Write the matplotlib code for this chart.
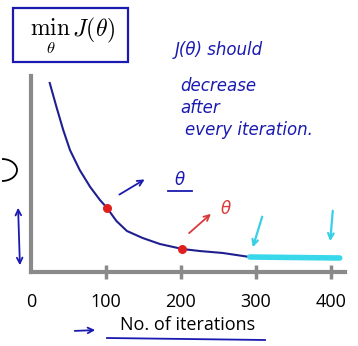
import matplotlib.pyplot as plt
from matplotlib.patches import FancyArrowPatch, Rectangle, Arc

# cost curve
iters = [25, 34, 43, 52, 65, 79, 92, 101, 114, 128, 149, 172, 202, 225, 256, 292, 350, 412]
cost = [189, 165, 142, 122, 102, 85, 72, 64.5, 51, 41, 34, 28, 23, 21, 19, 15, 14.5, 14]
mark_iters = [101, 202]
mark_cost = [64.5, 23]
flat_iters = [292, 412]
flat_cost = [15, 14]
xticks = [0, 100, 200, 300, 400]

W, H = 358, 346
fig = plt.figure(figsize=(W / 100, H / 100), dpi=100)
fig.patch.set_facecolor('white')
plt.rcParams['mathtext.fontset'] = 'cm'

def px(x, y):
    return (x / W, 1 - y / H)

ax = fig.add_axes([31 / W, 74 / H, 314 / W, 196 / H])
ax.plot(iters, cost, color='#1f1f8f', lw=1.5, zorder=3)
ax.plot(flat_iters, flat_cost, color='#38d8ea', lw=4, solid_capstyle='round', zorder=4)
ax.scatter(mark_iters, mark_cost, color='#e0201e', s=30, zorder=5)

ax.set_xlim(0, 419)
ax.set_ylim(0, 196)
for s in ['top', 'right']:
    ax.spines[s].set_visible(False)
for s in ['left', 'bottom']:
    ax.spines[s].set_color('#8a8a8a')
    ax.spines[s].set_linewidth(3)
ax.set_yticks([])
ax.set_xticks(xticks)
ax.set_xticklabels([str(t) for t in xticks], fontsize=13, fontfamily='Open Sans')
ax.tick_params(axis='x', direction='inout', length=10, width=2.5, color='#8a8a8a', pad=10)
ax.xaxis.get_major_ticks()[0].tick1line.set_visible(False)
ax.set_xlabel('No. of iterations', fontsize=13, fontfamily='Open Sans', labelpad=4)

ink = '#1a1ab0'
hand = dict(color=ink, fontsize=12, style='italic', family='DejaVu Sans', transform=fig.transFigure)

# top-left boxed title
fig.patches.append(Rectangle(px(13, 62), 115 / W, 54 / H, transform=fig.transFigure,
                             fill=False, edgecolor=ink, lw=1.6))
fig.text(*px(72, 36), r'$\min_{\theta}\,J(\theta)$', fontsize=17, ha='center', va='center',
         transform=fig.transFigure)

# handwritten notes
fig.text(*px(175, 50), 'J(θ) should', ha='left', va='center', **hand)
fig.text(*px(180, 86), 'decrease', ha='left', va='center', **hand)
fig.text(*px(180, 108), 'after', ha='left', va='center', **hand)
fig.text(*px(185, 130), 'every iteration.', ha='left', va='center', **hand)

def arrow(p0, p1, color, style='->', lw=1.3):
    fig.patches.append(FancyArrowPatch(px(*p0), px(*p1), transform=fig.transFigure,
                                       arrowstyle=style, mutation_scale=10, color=color, lw=lw))

arrow((117, 196), (147, 178), ink)
fig.text(*px(180, 180), 'θ', ha='center', va='center', **hand)
fig.lines.append(plt.Line2D([px(168, 0)[0], px(192, 0)[0]], [px(0, 191)[1]] * 2,
                            transform=fig.transFigure, color=ink, lw=1.3))

red = '#d83a3a'
arrow((187, 235), (213, 212), red)
fig.text(*px(226, 209), 'θ', ha='center', va='center', color=red, fontsize=12,
         style='italic', transform=fig.transFigure)

cyan = '#38d0e4'
arrow((263, 214), (252, 250), cyan, lw=1.6)
arrow((333, 208), (330, 244), cyan, lw=1.6)

# left side marks
arrow((18, 205), (20, 268), ink, style='<->')
fig.patches.append(Arc(px(2, 170), 30 / W, 22 / H, transform=fig.transFigure,
                       theta1=-90, theta2=90, color='black', lw=1.3))

# x label marks
arrow((72, 331), (98, 330), ink)
fig.lines.append(plt.Line2D([px(107, 0)[0], px(265, 0)[0]], [px(0, 338)[1], px(0, 340)[1]],
                            transform=fig.transFigure, color=ink, lw=1.3))

fig.savefig('out.png', dpi=100)
